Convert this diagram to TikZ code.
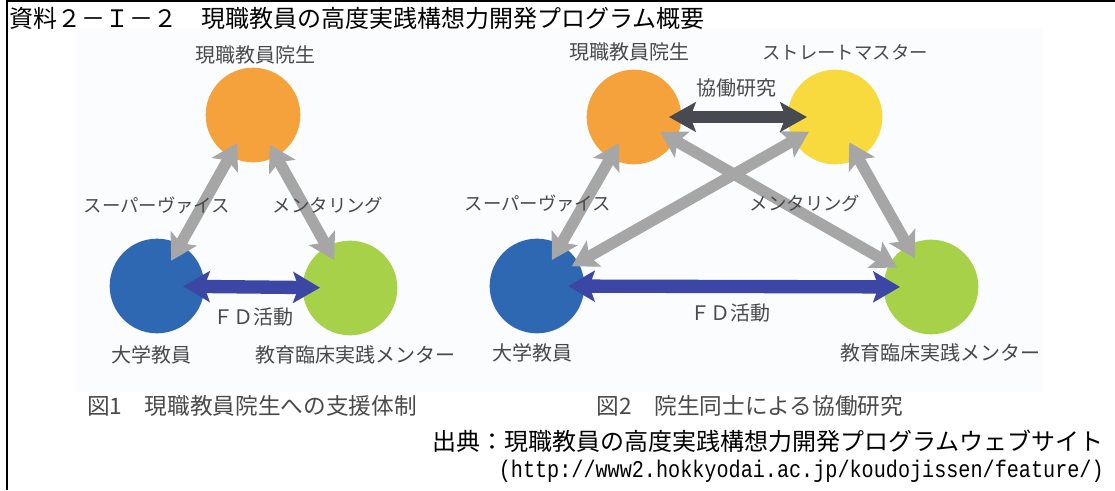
\documentclass[tikz,border=0pt]{standalone}
\usepackage{fontspec}
\newfontfamily\jp{Noto Sans CJK JP}
\newfontfamily\urlf[FakeStretch=0.84]{Liberation Mono}
\usetikzlibrary{arrows.meta}
\definecolor{cOrange}{HTML}{F5A23C}
\definecolor{cYellow}{HTML}{F8D93E}
\definecolor{cBlue}{HTML}{2F68B2}
\definecolor{cGreen}{HTML}{A6D149}
\definecolor{cGray}{HTML}{A6A6A6}
\definecolor{cFD}{HTML}{3C46A5}
\definecolor{cDark}{HTML}{484A52}
\definecolor{cText}{HTML}{4A4A4A}
\definecolor{cBg}{HTML}{FAFCFD}
\begin{document}
\begin{tikzpicture}[x=0.75pt,y=-0.75pt,
  dot/.style={circle,minimum size=71pt,inner sep=0pt,draw=none},
  lbl/.style={inner sep=0pt,text=cText,font=\jp\fontsize{15pt}{17pt}\selectfont},
  klbl/.style={inner sep=0pt,text=cText,font=\jp\fontsize{13.8pt}{16pt}\selectfont},
  figcap/.style={inner sep=0pt,text=cText,font=\jp\fontsize{17pt}{19pt}\selectfont},
  gar/.style={draw=cGray,line width=8.5pt,
    {Stealth[length=19pt,width=22pt,inset=4pt]}-{Stealth[length=19pt,width=22pt,inset=4pt]}},
  fdar/.style={draw=cFD,line width=10pt,
    {Stealth[length=20pt,width=23pt,inset=4pt]}-{Stealth[length=20pt,width=23pt,inset=4pt]}},
  dkar/.style={draw=cDark,line width=9pt,
    {Stealth[length=20pt,width=22pt,inset=4pt]}-{Stealth[length=20pt,width=22pt,inset=4pt]}}
]
\useasboundingbox (0,0) rectangle (1115,490);
\fill[white] (0,0) rectangle (1115,490);
\fill[cBg] (75,28) rectangle (1043,392);
% frame
\draw[line width=1.5pt] (1115,1) -| (7,490);

% title
\node[anchor=west,inner sep=0pt,font=\jp\fontsize{18pt}{20pt}\selectfont] (title) at (9,18) {資料２－Ｉ－２　現職教員の高度実践構想力開発プログラム概要};

% ---------- figure 1 ----------
\node[dot,fill=cOrange] (o1) at (253,115) {};
\node[dot,fill=cBlue]   (b1) at (157,286) {};
\node[dot,fill=cGreen]  (g1) at (350,288) {};

\draw[gar,shorten <=24pt,shorten >=21.75pt] (o1.center) -- (b1.center);
\draw[gar,shorten <=25.5pt,shorten >=24pt] (o1.center) -- (g1.center);
\draw[fdar,shorten <=19.5pt,shorten >=22.5pt] (b1.center) -- (g1.center);

\node[lbl]  (lo1) at (255,55) {現職教員院生};
\node[klbl] (ls1) at (157,205) {スーパーヴァイス};
\node[klbl] (lm1) at (328,205) {メンタリング};
\node[lbl]  (lb1) at (151,355) {大学教員};
\node[lbl]  (lg1) at (355,355) {教育臨床実践メンター};
\node[lbl]  (lf1) at (253,317) {ＦＤ活動};
\node[figcap]  (c1) at (252,406) {図1　現職教員院生への支援体制};

% ---------- figure 2 ----------
\node[dot,fill=cOrange] (o2) at (634,117) {};
\node[dot,fill=cYellow] (y2) at (835,117) {};
\node[dot,fill=cBlue]   (b2) at (537,286) {};
\node[dot,fill=cGreen]  (g2) at (931,287) {};

\draw[gar,shorten <=22.5pt,shorten >=22.5pt] (o2.center) -- (b2.center);
\draw[gar,shorten <=22.5pt,shorten >=30pt] (y2.center) -- (b2.center);
\draw[gar,shorten <=22.5pt,shorten >=29.25pt] (o2.center) -- (g2.center);
\draw[gar,shorten <=21.75pt,shorten >=24.75pt] (y2.center) -- (g2.center);
\draw[dkar,shorten <=26.25pt,shorten >=21pt] (o2.center) -- (y2.center);
\draw[fdar,shorten <=23.25pt,shorten >=23.25pt] (b2.center) -- (g2.center);

\node[lbl]  (lo2) at (629,52) {現職教員院生};
\node[klbl] (ly2) at (845,52) {ストレートマスター};
\node[lbl]  (lk2) at (736,88) {協働研究};
\node[klbl] (ls2) at (538,203) {スーパーヴァイス};
\node[klbl] (lm2) at (805,203) {メンタリング};
\node[lbl]  (lb2) at (532,353) {大学教員};
\node[lbl]  (lg2) at (940,353) {教育臨床実践メンター};
\node[lbl]  (lf2) at (730,313) {ＦＤ活動};
\node[figcap]  (c2) at (750,406) {図2　院生同士による協働研究};

% source
\node[anchor=east,inner sep=0pt,font=\jp\fontsize{18pt}{20pt}\selectfont] (src) at (1104,441) {出典：現職教員の高度実践構想力開発プログラムウェブサイト};
\node[anchor=east,inner sep=0pt,font=\urlf\fontsize{18pt}{20pt}\selectfont] (url) at (1104,471) {(http://www2.hokkyodai.ac.jp/koudojissen/feature/)};
\end{tikzpicture}
\end{document}
